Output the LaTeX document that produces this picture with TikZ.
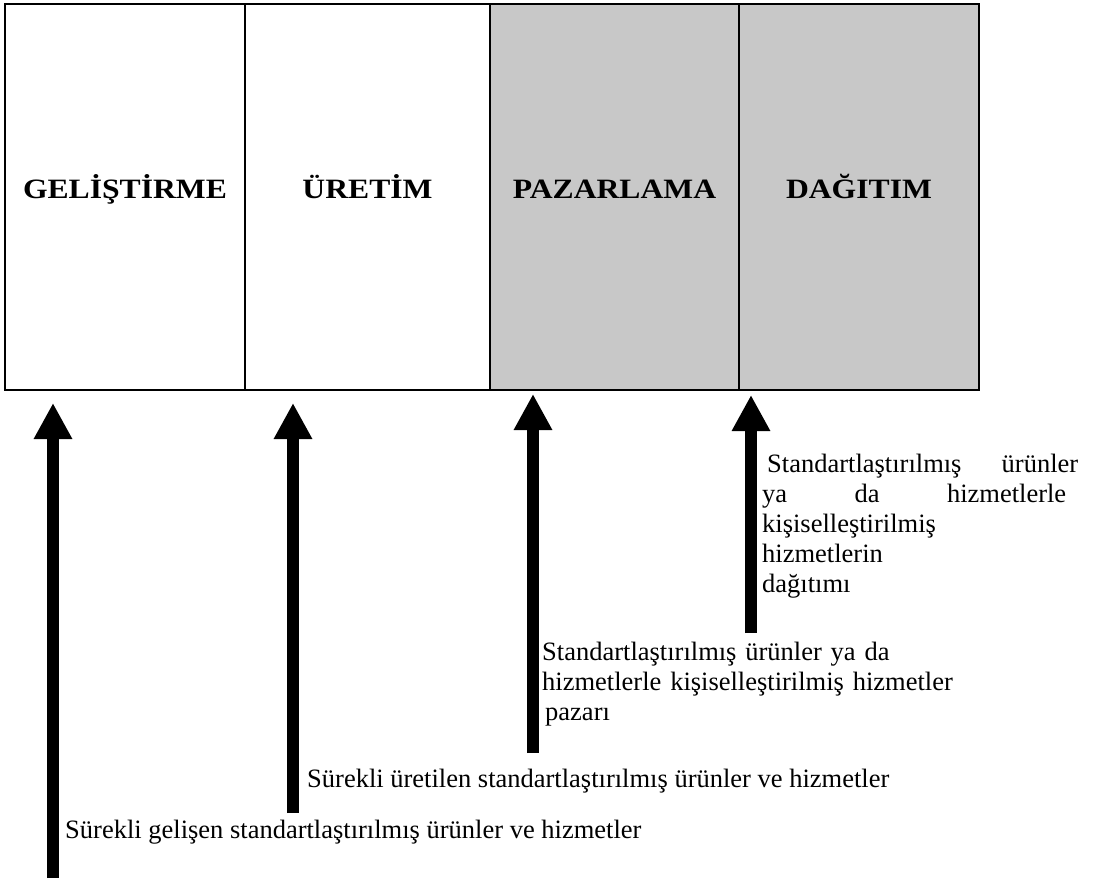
\documentclass[tikz,border=0pt]{standalone}
\usepackage{fontspec}
\setmainfont{Liberation Serif}
\newfontfamily\stagefont[FakeStretch=1.13]{Liberation Serif}
\usetikzlibrary{arrows.meta}
\definecolor{cellgray}{RGB}{200,200,200}
\newcommand{\spreadline}[2]{\leavevmode\hbox to #1{#2}}
\begin{document}
\begin{tikzpicture}[x=1pt,y=-1pt,
  cellbox/.style={draw=black, line width=1.4pt, minimum height=386pt, inner sep=0pt,
                  text height=12pt, text depth=10pt,
                  font=\stagefont\fontsize{28pt}{34pt}\selectfont\bfseries},
  shaded/.style={cellbox, fill=cellgray},
  upar/.style={line width=12pt, -{Triangle[width=36pt,length=36pt]}},
  note/.style={anchor=base west, inner sep=0pt, align=left,
               font=\fontsize{26.5pt}{30pt}\selectfont},
]
\useasboundingbox (0,0) rectangle (1093,881);
\fill[white] (0,0) rectangle (1093,881);

% the four stages
\node[cellbox, minimum width=240pt] (gel) at (125,197) {GELİŞTİRME};
\node[cellbox, minimum width=245pt] (ure) at (367.5,197) {ÜRETİM};
\node[shaded, minimum width=249pt] (paz) at (614.5,197) {PAZARLAMA};
\node[shaded, minimum width=240pt, line width=1.8pt] (dag) at (859,197) {DAĞITIM};

% arrows pointing up at the stages
\coordinate (s1) at (53,878);  \coordinate (e1) at (53,403);
\coordinate (s2) at (293,813); \coordinate (e2) at (293,403);
\coordinate (s3) at (533,753); \coordinate (e3) at (533,394);
\coordinate (s4) at (751,633); \coordinate (e4) at (751,395);
\draw[upar] (s1) -- (e1);
\draw[upar] (s2) -- (e2);
\draw[upar] (s3) -- (e3);
\draw[upar] (s4) -- (e4);

% descriptions
\node[note] (t1) at (65,838) {Sürekli gelişen standartlaştırılmış ürünler ve hizmetler};
\node[note] (t2) at (307,787) {Sürekli üretilen standartlaştırılmış ürünler ve hizmetler};
\node[note, text width=430pt] (t3) at (542,660)
  {Standartlaştırılmış ürünler ya da\\
   hizmetlerle kişiselleştirilmiş hizmetler\\
   \hspace*{3pt}pazarı};
\node[note, text width=318pt] (t4) at (762,472)
  {\spreadline{316pt}{\hspace*{5pt}Standartlaştırılmış\hfill ürünler}\\
   \spreadline{304pt}{ya\hfill da\hfill hizmetlerle}\\
   kişiselleştirilmiş\\
   hizmetlerin\\
   dağıtımı};
\end{tikzpicture}
\end{document}
